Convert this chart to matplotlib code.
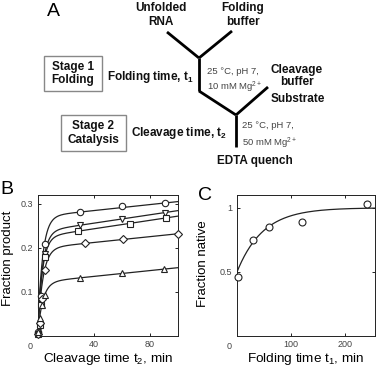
import numpy as np
import matplotlib
matplotlib.use("Agg")
import matplotlib.pyplot as plt
from matplotlib.patches import Rectangle

plt.rcParams["font.family"] = ["Liberation Sans", "DejaVu Sans"]
plt.rcParams["mathtext.default"] = "regular"

# ---- Panel B: cleavage time courses (five folding times) ----
t_circle = [0.5, 1.5, 2.5, 5, 30, 60, 91]
y_circle = [0.01, 0.03, 0.09, 0.209, 0.281, 0.296, 0.302]
t_dtri = [0.5, 1.5, 3, 5, 30.5, 60.5, 91]
y_dtri = [0.005, 0.02, 0.08, 0.185, 0.251, 0.266, 0.280]
t_square = [0.5, 1.5, 2.5, 5.5, 29, 66, 91.5]
y_square = [0.005, 0.025, 0.07, 0.18, 0.238, 0.255, 0.268]
t_diamond = [0.5, 1.5, 3, 5, 34, 61, 100]
y_diamond = [0.005, 0.03, 0.085, 0.149, 0.210, 0.220, 0.232]
t_utri = [0.5, 1.5, 3, 5, 30.5, 60.5, 90]
y_utri = [0.01, 0.04, 0.07, 0.092, 0.132, 0.143, 0.152]

# burst + linear fits: amplitude, rate, slope
fit_circle = (0.271, 0.29, 0.00034)
fit_dtri = (0.237, 0.29, 0.000475)
fit_square = (0.224, 0.30, 0.00048)
fit_diamond = (0.199, 0.27, 0.00033)
fit_utri = (0.122, 0.27, 0.00033)

# ---- Panel C: fraction native vs folding time ----
t_fold = [3, 30, 60, 120, 240]
f_native = [0.461, 0.748, 0.852, 0.891, 1.033]
fit_native = (1.0, 0.51, 0.021)  # plateau, amplitude, rate

W, H = 378, 367
fig = plt.figure(figsize=(W / 100, H / 100), dpi=100)

# ---- Panel A: schematic, drawn in pixel coordinates ----
axA = fig.add_axes([0, 0, 1, 1])
axA.set_xlim(0, W)
axA.set_ylim(H, 0)
axA.axis("off")

lw = 2.0
segs = [((167, 32), (199, 58)), ((232, 31), (199, 58)), ((199, 58), (199, 91)),
        ((199, 91), (236, 115)), ((268, 87), (236, 115)), ((236, 115), (236, 147))]
for (x0, y0), (x1, y1) in segs:
    axA.plot([x0, x1], [y0, y1], color="black", lw=lw, solid_capstyle="butt")

bold = dict(fontsize=8.5, fontweight="bold", color="#111111")
small = dict(fontsize=6.8, color="#444444")
axA.text(53, 12, "A", fontsize=14, va="center", ha="center")
axA.text(161, 15, "Unfolded\nRNA", ha="center", va="center", linespacing=1.25, **bold)
axA.text(243, 15, "Folding\nbuffer", ha="center", va="center", linespacing=1.25, **bold)

axA.add_patch(Rectangle((44, 56), 58, 35, fill=False, ec="#888888", lw=1.0))
axA.text(73, 73.5, "Stage 1\nFolding", ha="center", va="center", linespacing=1.2, **bold)
axA.text(107, 77, "Folding time, t$_1$", ha="left", va="center", **bold)
axA.text(207, 71, "25 °C, pH 7,", ha="left", va="center", **small)
axA.text(207, 87, "10 mM Mg$^{2+}$", ha="left", va="center", **small)
axA.text(297, 76, "Cleavage\nbuffer", ha="center", va="center", linespacing=1.1, **bold)
axA.text(298, 99, "Substrate", ha="center", va="center", **bold)

axA.add_patch(Rectangle((61, 115), 65, 36, fill=False, ec="#888888", lw=1.0))
axA.text(93.5, 133, "Stage 2\nCatalysis", ha="center", va="center", linespacing=1.2, **bold)
axA.text(131, 133, "Cleavage time, t$_2$", ha="left", va="center", **bold)
axA.text(242, 126, "25 °C, pH 7,", ha="left", va="center", **small)
axA.text(242, 143, "50 mM Mg$^{2+}$", ha="left", va="center", **small)
axA.text(255, 161, "EDTA quench", ha="center", va="center", **bold)


def style_axes(ax):
    ax.tick_params(direction="in", top=True, right=True, length=2.5, width=0.6,
                   labelsize=6.5, labelcolor="#444444", pad=3)
    for s in ax.spines.values():
        s.set_linewidth(0.7)
        s.set_color("#222222")


# ---- Panel B ----
axB = fig.add_axes([37.5 / W, 31 / H, 140.2 / W, 141 / H])
tt = np.linspace(0, 100, 400)
series = [
    (t_circle, y_circle, fit_circle, "o"),
    (t_dtri, y_dtri, fit_dtri, "v"),
    (t_square, y_square, fit_square, "s"),
    (t_diamond, y_diamond, fit_diamond, "D"),
    (t_utri, y_utri, fit_utri, "^"),
]
for t, y, (a, k, b), m in series:
    axB.plot(tt, a * (1 - np.exp(-k * tt)) + b * tt, color="#222222", lw=0.9)
    axB.plot(t, y, m, mfc="white", mec="#222222", mew=0.8,
             ms=4.6 if m != "D" else 4.0, zorder=3, clip_on=False)
axB.set_xlim(0, 100)
axB.set_ylim(0, 0.32)
axB.set_xticks([40, 80])
axB.set_yticks([0.1, 0.2, 0.3])
style_axes(axB)
axB.set_ylabel("Fraction product", fontsize=9.5)
axB.yaxis.set_label_coords(-0.17, 0.55)
axB.set_xlabel("Cleavage time t$_2$, min", fontsize=9.7, labelpad=1)
axB.text(-0.05, -0.045, "0", transform=axB.transAxes, fontsize=6.5,
         color="#444444", ha="center", va="top")
fig.text(7 / W, 1 - 190 / H, "B", fontsize=14, ha="center", va="center")

# ---- Panel C ----
axC = fig.add_axes([236.5 / W, 31 / H, 138.5 / W, 141 / H])
tc = np.linspace(0, 255, 300)
p, amp, kc = fit_native
axC.plot(tc, p - amp * np.exp(-kc * tc), color="#222222", lw=0.9)
axC.plot(t_fold, f_native, "o", mfc="white", mec="#222222", mew=0.8, ms=5.0,
         zorder=3, clip_on=False)
axC.set_xlim(0, 255)
axC.set_ylim(0, 1.1)
axC.set_xticks([100, 200])
axC.set_yticks([0.5, 1])
axC.set_yticklabels(["0.5", "1"])
style_axes(axC)
axC.set_ylabel("Fraction native", fontsize=9.5)
axC.yaxis.set_label_coords(-0.2, 0.51)
axC.set_xlabel("Folding time t$_1$, min", fontsize=9.7, labelpad=1)
axC.text(-0.05, -0.045, "0", transform=axC.transAxes, fontsize=6.5,
         color="#444444", ha="center", va="top")
fig.text(205 / W, 1 - 195 / H, "C", fontsize=14, ha="center", va="center")

fig.savefig("out.png", dpi=100)
